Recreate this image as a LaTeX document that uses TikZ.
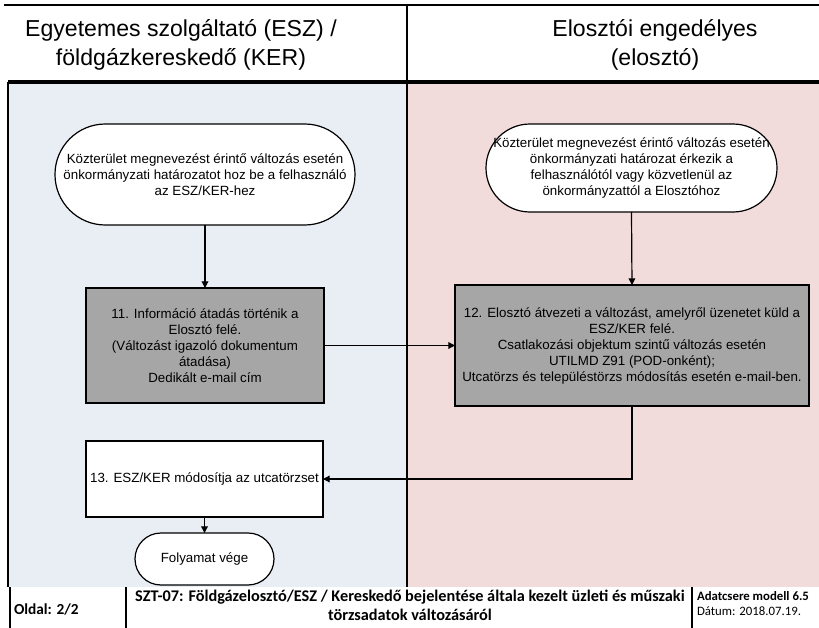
\documentclass[tikz,border=0pt]{standalone}
\usepackage{fontspec}
\setmainfont{Liberation Sans}
\newfontfamily\calibri{Carlito}
\usetikzlibrary{arrows.meta}
\definecolor{laneblue}{HTML}{E9EDF4}
\definecolor{lanepink}{HTML}{F2DCDB}
\definecolor{boxgray}{HTML}{A6A6A6}
\begin{document}
\begin{tikzpicture}[x=0.75pt,y=-0.75pt,
  every node/.style={inner sep=0pt, outer sep=0pt},
  bodytext/.style={font=\fontsize{10}{12}\selectfont, align=center, text=black},
  terminal/.style={bodytext, draw=black, line width=0.9pt, fill=white},
  procbox/.style={bodytext, draw=black, line width=0.9pt, fill=boxgray},
  whitebox/.style={bodytext, draw=black, line width=0.9pt, fill=white},
  flow/.style={line width=0.9pt, -{Triangle[length=5pt,width=5pt]}},
  headtext/.style={font=\fontsize{17.3}{21.75}\selectfont, align=center},
  foot/.style={font=\calibri\fontsize{12.2}{14.25}\selectfont\bfseries, align=center}
]
\useasboundingbox (0,0) rectangle (819,628);
% lanes
\fill[laneblue] (8,82) rectangle (407,587);
\fill[lanepink] (407,82) rectangle (819,587);
\draw[line width=1.3pt] (4,5) -- (819,5);
\draw[line width=2.3pt] (8,82) -- (819,82);
\draw[line width=1.2pt] (407,5) -- (407,587);
\draw[line width=1.2pt] (8,82) -- (8,587);
% headers
\node[headtext] (h1) at (181,44.5) {Egyetemes szolgáltató (ESZ) /\\földgázkereskedő (KER)};
\node[headtext] (h2) at (655,44.5) {Elosztói engedélyes\\(elosztó)};
% nodes
\node[terminal, minimum width=225pt, minimum height=75.75pt, rounded corners=37.8pt] (t1) at (205,174.5)
  {Közterület megnevezést érintő változás esetén\\önkormányzati határozatot hoz be a felhasználó\\az ESZ/KER-hez};
\node[terminal, minimum width=218.25pt, minimum height=66pt, rounded corners=33pt] (t2) at (631.5,168)
  {Közterület megnevezést érintő változás esetén\\önkormányzati határozat érkezik a\\felhasználótól vagy közvetlenül az\\önkormányzattól a Elosztóhoz};
\node[procbox, minimum width=178.5pt, minimum height=86.25pt] (b11) at (205,345.5)
  {11. Információ átadás történik a\\Elosztó felé.\\(Változást igazoló dokumentum\\átadása)\\Dedikált e-mail cím};
\node[procbox, minimum width=265.5pt, minimum height=90.75pt] (b12) at (632,345.5)
  {12. Elosztó átvezeti a változást, amelyről üzenetet küld a\\ESZ/KER felé.\\Csatlakozási objektum szintű változás esetén\\UTILMD Z91 (POD-onként);\\Utcatörzs és településtörzs módosítás esetén e-mail-ben.};
\node[whitebox, minimum width=177.75pt, minimum height=57pt] (b13) at (204.5,479)
  {13. ESZ/KER módosítja az utcatörzset};
\node[terminal, minimum width=104.25pt, minimum height=39pt, rounded corners=19.5pt] (t3) at (204.5,559)
  {Folyamat vége};
% connectors
\draw[flow] (t1.south) -- (b11.north);
\draw[flow] (t2.south) -- (b12.north);
\draw[flow] (b11.east) -- (b12.west);
\draw[flow] (b12.south) |- (b13.east);
\draw[flow] (b13.south) -- (t3.north);
% footer
\draw[line width=1.6pt] (10,587) -- (10,628);
\draw[line width=0.8pt] (126,587) -- (126,628);
\draw[line width=0.8pt] (692,587) -- (692,628);
\node[foot, anchor=west, font=\calibri\fontsize{11.5}{14}\selectfont\bfseries] (oldal) at (14,609) {Oldal: 2/2};
\node[foot] (title) at (410,605.5) {SZT-07: Földgázelosztó/ESZ / Kereskedő bejelentése általa kezelt üzleti és műszaki\\törzsadatok változásáról};
\node[anchor=west, font=\calibri\fontsize{9.6}{11}\selectfont\bfseries] (model) at (697,596) {Adatcsere modell 6.5};
\node[anchor=west, font=\calibri\fontsize{9.6}{11}\selectfont] (datum) at (697,611) {Dátum: 2018.07.19.};
\end{tikzpicture}
\end{document}
